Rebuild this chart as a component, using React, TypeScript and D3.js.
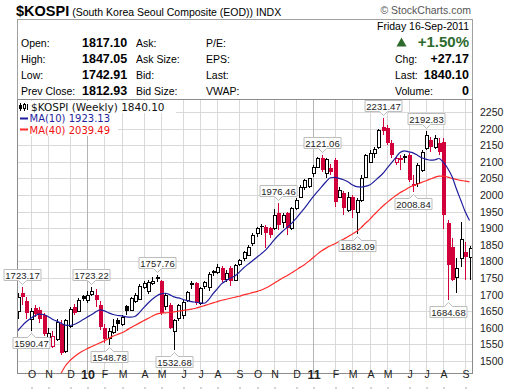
import * as d3 from 'd3'

// weekly bars, first bar = week ending Fri 18-Sep-2009
const firstWeek = new Date(2009, 8, 18)

const opens = [
  1652, 1706, 1680, 1628, 1660, 1655, 1638, 1572, 1545, 1566,
  1612, 1530, 1605, 1664, 1652, 1696, 1684, 1702, 1700, 1670,
  1600, 1568, 1588, 1622, 1612, 1666, 1655, 1682, 1688, 1722,
  1712, 1736, 1752, 1740, 1665, 1670, 1590, 1630, 1640, 1684,
  1735, 1734, 1675, 1726, 1722, 1770, 1769, 1779, 1746, 1779,
  1745, 1792, 1809, 1819, 1855, 1885, 1907, 1903, 1900, 1900,
  1946, 1920, 1946, 1900, 1961, 1995, 2025, 2028, 2066, 2085,
  2111, 2067, 2081, 2105, 1995, 2005, 1955, 1995, 1950, 1985,
  2055, 2100, 2127, 2146, 2206, 2201, 2157, 2100, 2110, 2116,
  2120, 2032, 2036, 2075, 2142, 2166, 2146, 2157, 2160, 1916,
  1844, 1754, 1810, 1829, 1814,
]
const highs = [
  1705, 1723.17, 1692, 1660, 1670, 1662, 1645, 1600, 1590, 1628,
  1625, 1628, 1662, 1672, 1690, 1700, 1712, 1723.22, 1716, 1680,
  1612, 1598, 1628, 1630, 1640, 1670, 1692, 1705, 1732, 1742,
  1745, 1752, 1757.76, 1745, 1705, 1676, 1628, 1672, 1685, 1712,
  1742, 1738, 1724, 1742, 1768, 1774, 1792, 1786, 1775, 1785,
  1792, 1808, 1832, 1850, 1885, 1905, 1912, 1910, 1905, 1958,
  1976.46, 1945, 1950, 1965, 1990, 2030, 2048, 2052, 2090, 2115,
  2121.06, 2110, 2092, 2110, 2025, 2012, 2010, 2000, 1990, 2060,
  2125, 2135, 2145, 2200, 2231.47, 2212, 2165, 2118, 2120, 2125,
  2128, 2060, 2095, 2135, 2192.83, 2175, 2180, 2172, 2173, 1925,
  1870, 1810, 1920, 1859, 1847.05,
]
const lows = [
  1628, 1668, 1628, 1590.47, 1632, 1615, 1575, 1560, 1540, 1560,
  1518, 1524, 1598, 1638, 1648, 1680, 1676, 1695, 1664, 1592,
  1555, 1548.78, 1582, 1590, 1605, 1640, 1650, 1675, 1684, 1716,
  1703, 1728, 1738, 1640, 1655, 1595, 1532.68, 1620, 1628, 1678,
  1716, 1670, 1668, 1718, 1712, 1755, 1762, 1738, 1738, 1725,
  1740, 1785, 1800, 1815, 1845, 1875, 1880, 1840, 1870, 1895,
  1895, 1900, 1880, 1895, 1955, 1990, 2015, 2020, 2055, 2080,
  2068, 2050, 2060, 1965, 1990, 1940, 1950, 1930, 1882.09, 1980,
  2050, 2095, 2110, 2140, 2180, 2150, 2110, 2090, 2075, 2095,
  2040, 2008.84, 2025, 2068, 2135, 2130, 2140, 2120, 1897, 1684.68,
  1740, 1705, 1783, 1744, 1742.91,
]
const closes = [
  1693, 1692, 1644, 1650, 1643, 1628, 1581, 1585, 1575, 1618,
  1525, 1622, 1656, 1646, 1684, 1688, 1700, 1712, 1684, 1602,
  1567, 1590, 1605, 1610, 1634, 1652, 1689, 1699, 1726, 1735,
  1738, 1742, 1746, 1645, 1699, 1600, 1623, 1668, 1679, 1708,
  1728, 1675, 1719, 1738, 1763, 1766, 1784, 1744, 1765, 1740,
  1789, 1804, 1829, 1844, 1880, 1900, 1903, 1885, 1880, 1940,
  1910, 1940, 1900, 1961, 1985, 2025, 2045, 2050, 2085, 2111,
  2075, 2108, 2070, 1980, 2015, 1961, 1995, 1955, 1985, 2051,
  2120, 2127, 2139, 2196, 2192, 2157, 2120, 2111, 2106, 2111,
  2045, 2028, 2090, 2130, 2181, 2146, 2172, 2130, 1940, 1789,
  1744, 1780, 1867, 1812.93, 1840.1,
]

// moving averages
const ma10 = [
  1590, 1605, 1618, 1628, 1636, 1641, 1640, 1634, 1626, 1620,
  1614, 1608, 1607, 1610, 1616, 1624, 1632, 1639, 1648, 1654,
  1651, 1645, 1640, 1637, 1636, 1633, 1632, 1634, 1645, 1660,
  1674, 1686, 1696, 1702, 1704, 1700, 1693, 1690, 1686, 1682,
  1679, 1677, 1675, 1674, 1685, 1703, 1718, 1733, 1742, 1750,
  1756, 1767, 1780, 1791, 1801, 1812, 1822, 1833, 1848, 1864,
  1878, 1891, 1902, 1914, 1928, 1944, 1960, 1977, 1994, 2010,
  2025, 2040, 2052, 2053, 2050, 2046, 2040, 2031, 2025, 2024,
  2026, 2030, 2040, 2052, 2064, 2080, 2096, 2112, 2128, 2133,
  2130, 2127, 2120, 2112, 2108, 2105, 2106, 2110, 2098, 2080,
  2055, 2018, 1984, 1950, 1923.13,
]
const ma40Start = 10
const ma40 = [
  1462, 1485, 1500, 1512, 1522, 1530, 1537, 1543, 1549, 1555,
  1561, 1568, 1575, 1580, 1585, 1592, 1600, 1607, 1614, 1621,
  1628, 1635, 1641, 1644, 1645, 1646, 1648, 1650, 1652, 1654,
  1656, 1659, 1663, 1667, 1671, 1675, 1679, 1683, 1686, 1689,
  1692, 1695, 1699, 1702, 1706, 1709, 1713, 1719, 1726, 1734,
  1742, 1750, 1757, 1765, 1773, 1782, 1790, 1800, 1811, 1822,
  1832, 1840, 1847, 1853, 1860, 1867, 1874, 1882, 1890, 1901,
  1914, 1926, 1940, 1953, 1966, 1977, 1988, 1998, 2007, 2014,
  2022, 2028, 2033, 2038, 2043, 2048, 2053, 2057, 2057, 2054,
  2050, 2047, 2044, 2042, 2039.49,
]

const yTickValues = [1500, 1550, 1600, 1650, 1700, 1750, 1800, 1850, 1900, 1950, 2000, 2050, 2100, 2150, 2200, 2250]
const monthLetters = ['J', 'F', 'M', 'A', 'M', 'J', 'J', 'A', 'S', 'O', 'N', 'D']

// bars that carry a high / low callout
const highNotes = [1, 17, 32, 60, 70, 84, 94]
const lowNotes = [3, 21, 36, 78, 91, 99]

const quoteLeftLabels = ['Open:', 'High:', 'Low:', 'Prev Close:']
const quoteLeftValues = ['1817.10', '1847.05', '1742.91', '1812.93']
const quoteMidLabels = ['Ask:', 'Ask Size:', 'Bid:', 'Bid Size:']
const quoteRightLabels = ['P/E:', 'EPS:', 'Last:', 'VWAP:']
const sideLabels = ['Chg:', 'Last:', 'Volume:']
const sideValues = ['+27.17', '1840.10', '0']

const RED = '#d1003a'
const SANS = '"Liberation Sans", Arial, sans-serif'
const LEGEND_FONT = '"DejaVu Sans", Verdana, sans-serif'

export default function App() {
  const n = closes.length
  const left = 17.5
  const right = 472.5
  const top = 99.5
  const bottom = 373.5

  const x = d3.scaleLinear([0, n - 1], [17.5, 469.5])
  const y = d3.scaleLinear([1500, 2250], [361, 112])

  // month ticks: first bar whose monday falls in a new month
  const dates = closes.map((_, i) => d3.timeWeek.offset(firstWeek, i))
  const monday = (d: Date) => d3.timeDay.offset(d, -4)
  const ticks: { i: number; label: string; year: boolean }[] = []
  dates.forEach((d, i) => {
    if (i === 0) return
    const m = monday(d).getMonth()
    if (m !== monday(dates[i - 1]).getMonth()) {
      const yr = m === 0
      ticks.push({
        i,
        label: yr ? String(monday(d).getFullYear() % 100) : monthLetters[m],
        year: yr,
      })
    }
  })

  const line10 = d3
    .line<number>()
    .x((_, i) => x(i))
    .y((d) => y(d))
    .curve(d3.curveMonotoneX)
  const line40 = d3
    .line<number>()
    .x((_, i) => x(i + ma40Start))
    .y((d) => y(d))
    .curve(d3.curveMonotoneX)

  const candles = closes.map((c, i) => {
    const o = opens[i]
    const prev = i > 0 ? closes[i - 1] : o
    const color = c < prev ? RED : '#000'
    const hollow = c > o
    const cx = Math.round(x(i))
    const yo = Math.round(y(o))
    const yc = Math.round(y(c))
    const t = Math.min(yo, yc)
    const b = Math.max(yo, yc)
    const yh = Math.round(y(highs[i]))
    const yl = Math.round(y(lows[i]))
    return (
      <g key={i}>
        <rect x={cx} y={yh} width={1} height={Math.max(1, yl - yh)} fill={color} />
        {hollow ? (
          <rect x={cx - 0.5} y={t + 0.5} width={3} height={Math.max(1, b - t)} fill="#fff" stroke={color} />
        ) : (
          <rect x={cx - 1} y={t} width={4} height={Math.max(1, b - t)} fill={color} />
        )}
      </g>
    )
  })

  const noteW = 37
  const noteH = 11
  const notes = [
    ...highNotes.map((i) => {
      const cx = Math.round(x(i)) + 0.5
      const tip = Math.round(y(highs[i])) - 2.5
      const b = tip - 4
      const t = b - noteH
      const l = cx - noteW / 2
      const r = cx + noteW / 2
      return (
        <g key={'h' + i}>
          <path
            d={`M${l},${t}H${r}V${b}H${cx + 4}L${cx},${tip}L${cx - 4},${b}H${l}Z`}
            fill="#fff"
            stroke="#bdbdbd"
          />
          <text x={cx} y={b - 2} textAnchor="middle" fontSize={9.5} fill="#222">
            {highs[i].toFixed(2)}
          </text>
        </g>
      )
    }),
    ...lowNotes.map((i) => {
      const cx = Math.round(x(i)) + 0.5
      const tip = Math.round(y(lows[i])) + 2.5
      const t = tip + 4
      const b = t + noteH
      const l = cx - noteW / 2
      const r = cx + noteW / 2
      return (
        <g key={'l' + i}>
          <path
            d={`M${l},${t}H${cx - 4}L${cx},${tip}L${cx + 4},${t}H${r}V${b}H${l}Z`}
            fill="#fff"
            stroke="#bdbdbd"
          />
          <text x={cx} y={b - 2} textAnchor="middle" fontSize={9.5} fill="#222">
            {lows[i].toFixed(2)}
          </text>
        </g>
      )
    }),
  ]

  const rowY = [47, 63, 79, 95]
  const legendY = [110.8, 122.4, 134]

  return (
    <svg
      width={520}
      height={391}
      style={{ position: 'absolute', left: 0, top: 0, background: '#fff' }}
      fontFamily={SANS}
    >
      <defs>
        <clipPath id="plot">
          <rect x={left} y={top} width={right - left} height={bottom - top} />
        </clipPath>
      </defs>

      {/* title */}
      <text x={16} y={16} fill="#000">
        <tspan fontSize={14.5} fontWeight="bold">$KOSPI</tspan>
        <tspan fontSize={10.5} dx={3}>(South Korea Seoul Composite (EOD))</tspan>
        <tspan fontSize={10.5} dx={3}>INDX</tspan>
      </text>
      <text x={471} y={14} textAnchor="end" fontSize={10.5} fill="#555">
        © StockCharts.com
      </text>

      {/* quote box */}
      <rect x={left} y={19.5} width={right - left} height={top - 19.5} fill="#fff" stroke="#a0a0a0" />
      {quoteLeftLabels.map((s, k) => (
        <text key={s} x={21} y={rowY[k]} fontSize={10.5}>{s}</text>
      ))}
      {quoteLeftValues.map((s, k) => (
        <text key={s} x={82} y={rowY[k]} fontSize={12.5} fontWeight="bold">{s}</text>
      ))}
      {quoteMidLabels.map((s, k) => (
        <text key={s} x={136} y={rowY[k]} fontSize={10.5}>{s}</text>
      ))}
      {quoteRightLabels.map((s, k) => (
        <text key={s} x={206} y={rowY[k]} fontSize={10.5}>{s}</text>
      ))}
      <text x={469} y={30} textAnchor="end" fontSize={10.5}>Friday  16-Sep-2011</text>
      <path d="M396.5,46.5L401.5,37.5L406.5,46.5Z" fill="#2e6b2e" />
      <text x={469} y={47} textAnchor="end" fontSize={15} fontWeight="bold" fill="#2e6b2e">+1.50%</text>
      {sideLabels.map((s, k) => (
        <text key={s} x={395} y={rowY[k + 1]} fontSize={10.5}>{s}</text>
      ))}
      {sideValues.map((s, k) => (
        <text key={s} x={469} y={rowY[k + 1]} textAnchor="end" fontSize={12.5} fontWeight="bold">{s}</text>
      ))}

      {/* plot frame + grid */}
      <rect x={left} y={top} width={right - left} height={bottom - top} fill="#fff" />
      {yTickValues.map((v) => (
        <line key={v} x1={left} x2={right} y1={Math.round(y(v)) + 0.5} y2={Math.round(y(v)) + 0.5} stroke="#d9d9d9" />
      ))}
      {ticks.map((t) => (
        <line
          key={t.i}
          x1={Math.round(x(t.i)) + 0.5}
          x2={Math.round(x(t.i)) + 0.5}
          y1={top}
          y2={bottom}
          stroke={t.year ? '#b4b4b4' : '#d9d9d9'}
        />
      ))}

      <g clipPath="url(#plot)">
        {candles}
        <path d={line40(ma40) ?? ''} fill="none" stroke="#ff2a2a" strokeWidth={1.2} />
        <path d={line10(ma10) ?? ''} fill="none" stroke="#1f1f9e" strokeWidth={1.2} />
      </g>
      <rect x={left} y={top} width={right - left} height={bottom - top} fill="none" stroke="#8c8c8c" />
      {notes}

      {/* legend */}
      <rect x={18} y={101} width={158} height={12} fill="#fff" />
      <rect x={18} y={113} width={100} height={11} fill="#fff" />
      <rect x={18} y={124} width={100} height={12} fill="#fff" />
      <rect x={20} y={103} width={1} height={8} fill="#000" />
      <rect x={19} y={105} width={3} height={4} fill="#000" />
      <rect x={24} y={103} width={1} height={8} fill="#000" />
      <rect x={23.5} y={104.5} width={2} height={4} fill="#fff" stroke="#000" />
      <rect x={27} y={104} width={1} height={6} fill="#000" />
      <text x={31} y={legendY[0]} fontSize={10.5} fontFamily={LEGEND_FONT} fill="#111">
        $KOSPI (Weekly) {closes[n - 1].toFixed(2)}
      </text>
      <rect x={20} y={117.5} width={8} height={2} fill="#1f1f9e" />
      <text x={29.5} y={legendY[1]} fontSize={10} fontFamily={LEGEND_FONT} fill="#1f1f9e">
        MA(10) {ma10[n - 1].toFixed(2)}
      </text>
      <rect x={20} y={128.5} width={8} height={2} fill="#ff2a2a" />
      <text x={29.5} y={legendY[2]} fontSize={10} fontFamily={LEGEND_FONT} fill="#ee1111">
        MA(40) {ma40[ma40.length - 1].toFixed(2)}
      </text>

      {/* right axis */}
      {yTickValues.map((v) => (
        <text key={v} x={480} y={Math.round(y(v)) + 4} fontSize={10.5} fill="#222">
          {v}
        </text>
      ))}

      {/* bottom axis */}
      {ticks.map((t) => (
        <g key={t.i}>
          <text
            x={Math.round(x(t.i)) + 1}
            y={t.year ? 378.5 : 378}
            textAnchor="middle"
            fontSize={t.year ? 12.5 : 10.5}
            fontWeight={t.year ? 'bold' : 'normal'}
            fill="#222"
          >
            {t.label}
          </text>
          <rect x={Math.round(x(t.i)) + 0.5} y={387} width={1} height={2} fill="#aaa" />
        </g>
      ))}
    </svg>
  )
}
